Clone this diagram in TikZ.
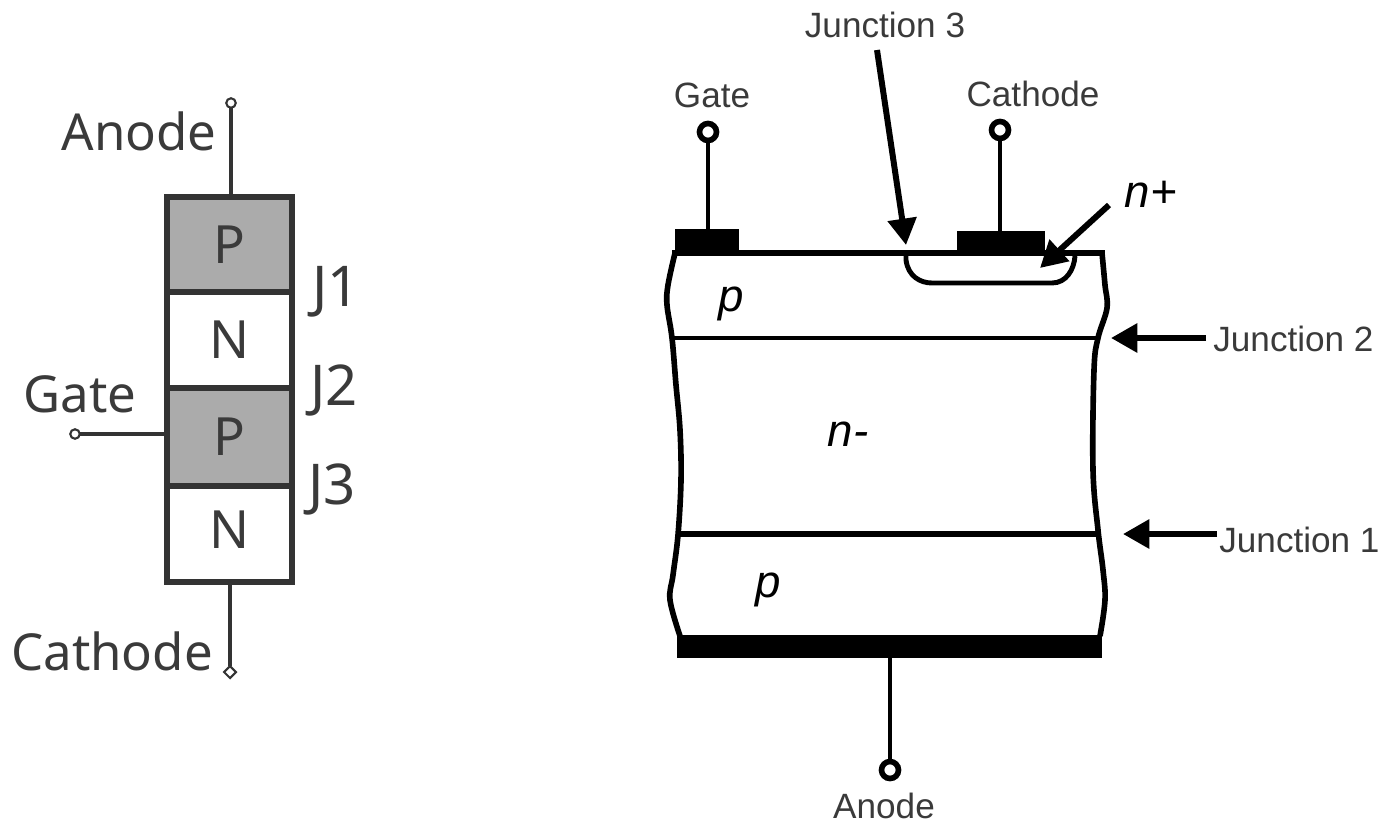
\documentclass[tikz,border=0pt]{standalone}
\usepackage{fontspec}
\setmainfont{Liberation Sans}
\newfontfamily\symbolfont{Noto Sans}
\usepackage{xcolor}
\usetikzlibrary{arrows.meta, positioning, shapes.geometric}
\definecolor{layergray}{HTML}{ABABAB}
\definecolor{symbolink}{HTML}{333333}
\definecolor{labelink}{HTML}{3A3A3A}

\begin{document}
\begin{tikzpicture}[x=0.02cm, y=-0.02cm,
    layer/.style={rectangle, draw=symbolink, line width=3pt, minimum width=2.5cm, outer sep=0pt, inner sep=0pt,
      text=labelink, font=\symbolfont\fontsize{30}{30}\selectfont},
    symlabel/.style={text=labelink, inner sep=0pt, font=\symbolfont\fontsize{29}{29}\selectfont},
    junclabel/.style={text=labelink, inner sep=0pt, font=\symbolfont\fontsize{32}{32}\selectfont},
    symlead/.style={line width=2.4pt, symbolink},
    symport/.style={circle, draw=symbolink, fill=white, line width=1.2pt, minimum size=0.19cm, inner sep=0pt, outer sep=0pt},
    symdiamond/.style={diamond, draw=symbolink, fill=white, line width=1.2pt, minimum size=0.24cm, inner sep=0pt, outer sep=0pt},
    devlabel/.style={text=labelink, inner sep=0pt, font=\fontsize{20}{20}\selectfont},
    regionlabel/.style={inner sep=0pt, font=\itshape\fontsize{26}{26}\selectfont},
    devlead/.style={line width=2.8pt},
    devport/.style={circle, draw=black, fill=white, line width=3.2pt, minimum size=0.34cm, inner sep=0pt, outer sep=0pt},
    contact/.style={rectangle, fill=black, inner sep=0pt, outer sep=0pt},
    pointer/.style={line width=3.4pt, -{Triangle[length=15pt, width=16pt]}}]

    \useasboundingbox (0,0) rectangle (1385,825);

    % layer stack on the left
    \node (lay1) [layer, fill=layergray, minimum height=1.9cm, anchor=north] at (229.5,197) {P};
    \node (lay2) [layer, below=0cm of lay1, minimum height=1.92cm] {N};
    \node (lay3) [layer, below=0cm of lay2, fill=layergray, minimum height=1.96cm] {P};
    \node (lay4) [layer, below=0cm of lay3, minimum height=1.92cm, text depth=0.16cm] {N};

    \node (anodeport) [symport] at (231,103) {};
    \node (gateport) [symport] at (75,434) {};
    \node (cathodeport) [symdiamond] at (230,672) {};
    \draw [symlead] (anodeport) -- (anodeport |- lay1.north);
    \draw [symlead] (gateport) -- (gateport -| lay3.west);
    \draw [symlead] (cathodeport) -- (cathodeport |- lay4.south);

    \node (anodelabel) [symlabel] at (139,131) {Anode};
    \node (gatelabel) [symlabel] at (80,394) {Gate};
    \node (cathodelabel) [symlabel] at (112,651) {Cathode};
    \node (j1) [junclabel] at (336,292) {J1};
    \node (j2) [junclabel] at (334,390) {J2};
    \node (j3) [junclabel] at (332,489) {J3};

    % device cross section on the right
    \node (gatepad) [contact, minimum width=1.28cm, minimum height=0.48cm, anchor=south west] at (675,253) {};
    \node (cathodepad) [contact, minimum width=1.76cm, minimum height=0.44cm, anchor=south west] at (957,253) {};
    \node (anodepad) [contact, minimum width=8.5cm, minimum height=0.46cm, anchor=north west] at (677,635) {};

    \draw [line width=3.2pt, line cap=rect] (675,253) -- (1102,253);
    \draw [line width=3.2pt] plot [smooth, tension=0.6] coordinates {(675,253) (668,285) (667,305) (672,338) (676,385) (680,430) (681,480) (678,535) (673,575) (670,600) (680,636)};
    \draw [line width=3.2pt] plot [smooth, tension=0.6] coordinates {(1102,253) (1105,285) (1107,308) (1098,338) (1094,370) (1093,470) (1098,530) (1103,570) (1105,600) (1100,636)};
    \draw [line width=1.8pt] (672,338) -- (1098,338);
    \draw [line width=3.2pt] (678,534) -- (1100,534);
    \draw [line width=2.8pt] (906,255) -- (906,260) .. controls (908,276) and (920,283) .. (932,283) -- (1052,283) .. controls (1066,283) and (1074,270) .. (1075,256);

    \node (dgateport) [devport] at (708,132) {};
    \node (dcathodeport) [devport] at (1000,130) {};
    \node (danodeport) [devport] at (890,770) {};
    \draw [devlead] (dgateport) -- (dgateport |- gatepad.north);
    \draw [devlead] (dcathodeport) -- (dcathodeport |- cathodepad.north);
    \draw [devlead] (danodeport) -- (danodeport |- anodepad.south);

    \node (dgatelabel) [devlabel] at (712,95) {Gate};
    \node (dcathodelabel) [devlabel] at (1033,94) {Cathode};
    \node (danodelabel) [devlabel] at (884,806) {Anode};
    \node (junc3) [devlabel] at (885,25) {Junction 3};
    \node (junc2) [devlabel, anchor=west] at (1213,339) {Junction 2};
    \node (junc1) [devlabel, anchor=west] at (1219,540) {Junction 1};

    \node (ptop) [regionlabel] at (731,304) {p};
    \node (pbottom) [regionlabel] at (768,590) {p};
    \node (nminus) [regionlabel] at (848,434) {n-};
    \node (nplus) [regionlabel] at (1151,194) {n+};

    \coordinate (junc3tail) at (877,50);
    \coordinate (junc3tip) at (906,245);
    \coordinate (nplustail) at (1109,205);
    \coordinate (nplustip) at (1040,268);
    \coordinate (junc2tip) at (1111,338);
    \coordinate (junc2tail) at (1206,338);
    \coordinate (junc1tip) at (1123,534);
    \coordinate (junc1tail) at (1217,534);

    \draw [pointer] (junc3tail) -- (junc3tip);
    \draw [pointer] (nplustail) -- (nplustip);
    \draw [pointer] (junc2tail) -- (junc2tip);
    \draw [pointer] (junc1tail) -- (junc1tip);
\end{tikzpicture}
\end{document}
